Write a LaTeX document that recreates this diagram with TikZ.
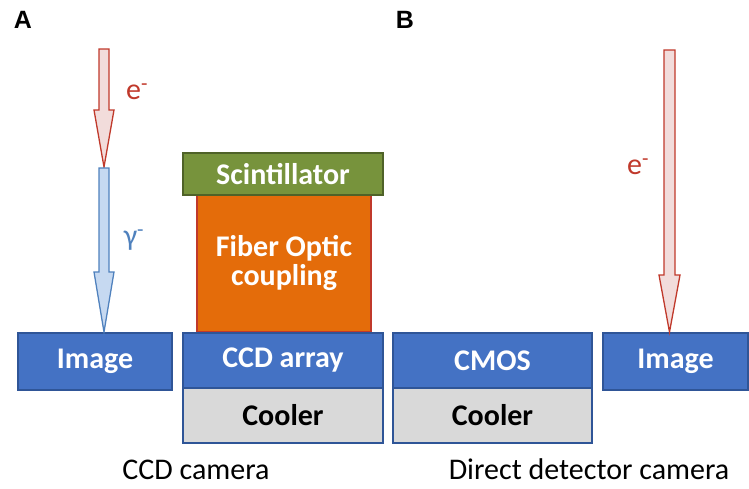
\documentclass[tikz,border=0pt]{standalone}
\usepackage{fontspec}
\setmainfont{Carlito}
\newfontfamily\arialfont{Liberation Sans}
\definecolor{boxblue}{HTML}{4472C4}
\definecolor{boxblueline}{HTML}{2F5597}
\definecolor{coolgray}{HTML}{D9D9D9}
\definecolor{scintgreen}{HTML}{77933C}
\definecolor{scintline}{HTML}{4F6228}
\definecolor{fiberorange}{HTML}{E46C0A}
\definecolor{fiberline}{HTML}{C0392B}
\definecolor{ered}{HTML}{C0392B}
\definecolor{epink}{HTML}{F2DCDB}
\definecolor{gblue}{HTML}{4F81BD}
\definecolor{gfill}{HTML}{C6D9F1}
\begin{document}
\begin{tikzpicture}[x=1pt,y=-1pt,
  blk/.style={draw=boxblueline, line width=1.3pt, inner sep=0pt, font=\fontsize{30}{29}\selectfont\bfseries},
  bluebox/.style={blk, fill=boxblue, text=white},
  coolbox/.style={blk, fill=coolgray, text=black},
  captext/.style={font=\fontsize{30}{32}\selectfont, anchor=base, inner sep=1pt},
  plabel/.style={inner sep=0pt},
  redarrow/.style={draw=ered, fill=epink, line width=1.3pt, line join=miter},
  bluearrow/.style={draw=gblue, fill=gfill, line width=1.3pt, line join=miter}]
\useasboundingbox (0,0) rectangle (749,488);
% panel labels
\node[plabel] (A) at (23,20) {\fontsize{25}{27}\selectfont\arialfont\bfseries A};
\node[plabel] (B) at (405,20) {\fontsize{25}{27}\selectfont\arialfont\bfseries B};
% boxes
\node[bluebox, minimum width=154pt, minimum height=57pt] (imgL) at (95,361.5) {Image};
\node[bluebox, minimum width=200pt, minimum height=55pt] (ccd) at (283,360.5) {CCD array};
\node[coolbox, minimum width=200pt, minimum height=55pt] (coolL) at (283,415.5) {Cooler};
\node[blk, draw=fiberline, fill=fiberorange, text=white, minimum width=174pt, minimum height=138pt, align=center] (fiber) at (284,262.5) {Fiber Optic\\coupling};
\node[blk, draw=scintline, fill=scintgreen, text=white, minimum width=200pt, minimum height=42pt] (scint) at (283,174) {Scintillator};
\node[bluebox, minimum width=199pt, minimum height=55pt] (cmos) at (492.5,360.5) {CMOS};
\node[coolbox, minimum width=199pt, minimum height=55pt] (coolR) at (492.5,415.5) {Cooler};
\node[bluebox, minimum width=145pt, minimum height=57pt] (imgR) at (675.5,361.5) {Image};
% arrows
\draw[redarrow] (99,49) -- (109,49) -- (109,110) -- (114,110) -- (104,167) -- (94,110) -- (99,110) -- cycle;
\draw[bluearrow] (99,168) -- (109,168) -- (109,272) -- (114,272) -- (104,332) -- (94,272) -- (99,272) -- cycle;
\draw[redarrow] (664,50) -- (675,50) -- (675,275) -- (680,275) -- (669.5,332) -- (659,275) -- (664,275) -- cycle;
% arrow labels
\node[text=ered, font=\fontsize{30}{32}\selectfont] (e1) at (137,92) {e\textsuperscript{-}};
\node[text=gblue, font=\fontsize{30}{32}\selectfont] (g1) at (134,240) {γ\textsuperscript{-}};
\node[text=ered, font=\fontsize{30}{32}\selectfont] (e2) at (638,167) {e\textsuperscript{-}};
% captions
\node[captext] (c1) at (196,479) {CCD camera};
\node[captext] (c2) at (589,479) {Direct detector camera};
\end{tikzpicture}
\end{document}
